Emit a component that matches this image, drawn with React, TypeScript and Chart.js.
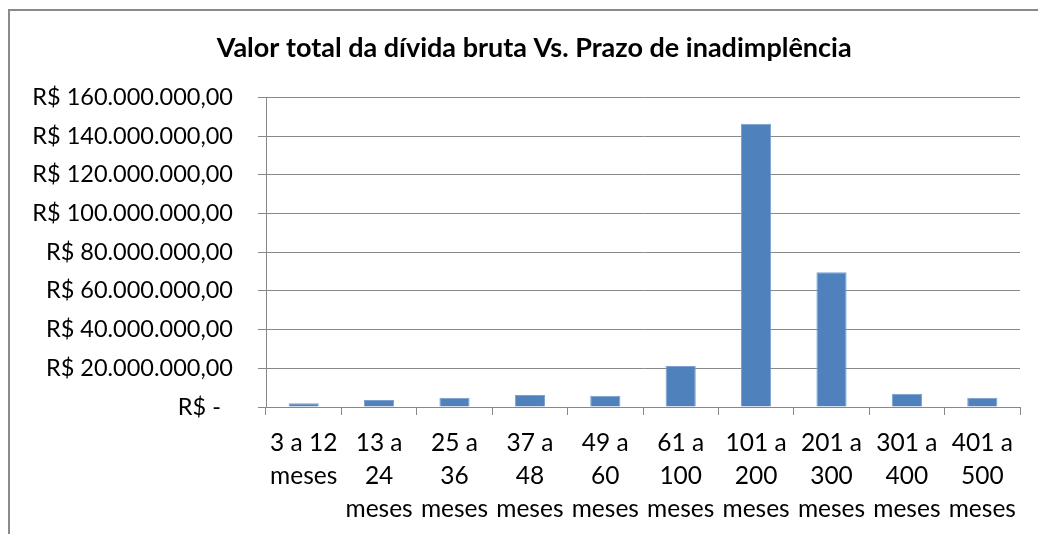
import React, { useEffect, useRef } from "react";
import { Chart, registerables } from "chart.js";

Chart.register(...registerables);

const chartTitle = "Valor total da dívida bruta Vs. Prazo de inadimplência";
const categories: string[][] = [
  ["3 a 12", "meses"],
  ["13 a", "24", "meses"],
  ["25 a", "36", "meses"],
  ["37 a", "48", "meses"],
  ["49 a", "60", "meses"],
  ["61 a", "100", "meses"],
  ["101 a", "200", "meses"],
  ["201 a", "300", "meses"],
  ["301 a", "400", "meses"],
  ["401 a", "500", "meses"],
];
const values: number[] = [
  1900000, 3600000, 4800000, 6200000, 5800000, 21200000, 146400000, 69700000, 6900000, 4800000,
];
const yMax = 160000000;
const yStep = 20000000;

const FONT = "Lato, 'Open Sans', sans-serif";

function formatBRL(v: number): string {
  if (v === 0) return "R$ -  ";
  const s = Math.round(v)
    .toString()
    .replace(/\B(?=(\d{3})+(?!\d))/g, ".");
  return "R$ " + s + ",00";
}

export default function App() {
  const ref = useRef<HTMLCanvasElement | null>(null);
  useEffect(() => {
    if (!ref.current) return;
    const chart = new Chart(ref.current, {
      type: "bar",
      data: {
        labels: categories,
        datasets: [
          {
            data: values,
            backgroundColor: "#4F81BD",
            borderColor: "#7A9FD0",
            borderWidth: 1,
            barPercentage: 0.4,
            categoryPercentage: 1,
          },
        ],
      },
      options: {
        animation: false,
        responsive: false,
        maintainAspectRatio: false,
        layout: { padding: { left: 0, right: 18, top: 0, bottom: 0 } },
        plugins: {
          legend: { display: false },
          tooltip: { enabled: false },
          title: {
            display: true,
            text: "\u00A0\u00A0\u00A0\u00A0\u00A0\u00A0" + chartTitle,
            color: "#000",
            font: { family: FONT, size: 27, weight: "bold", lineHeight: 1.2 },
            padding: { top: 21, bottom: 33 },
          },
        },
        scales: {
          x: {
            grid: {
              display: true,
              offset: true,
              drawOnChartArea: false,
              drawTicks: true,
              tickLength: 8,
              color: "#888888",
              lineWidth: 1,
            },
            border: { display: true, color: "#888888", width: 1 },
            ticks: {
              color: "#000",
              font: { family: FONT, size: 24.5, lineHeight: 1.36 },
              padding: 11,
              maxRotation: 0,
              autoSkip: false,
            },
            afterFit: (axis: any) => {
              axis.height = 127;
            },
          },
          y: {
            min: 0,
            max: yMax,
            ticks: {
              stepSize: yStep,
              color: "#000",
              font: { family: FONT, size: 23.5 },
              padding: 25,
              callback: (v: any) => formatBRL(Number(v)),
            },
            grid: {
              color: "#888888",
              lineWidth: 1,
              drawTicks: true,
              tickLength: 8,
            },
            border: { display: true, color: "#888888", width: 1 },
            afterFit: (axis: any) => {
              axis.width = 256;
            },
          },
        },
      },
    });
    return () => chart.destroy();
  }, []);

  return (
    <div
      style={{
        position: "absolute",
        left: 8,
        top: 9,
        width: 1030,
        height: 525,
        boxSizing: "border-box",
        borderTop: "2px solid #8a8a8a",
        borderLeft: "2px solid #8a8a8a",
        background: "#fff",
      }}
    >
      <canvas ref={ref} width={1028} height={523} style={{ display: "block" }} />
    </div>
  );
}
